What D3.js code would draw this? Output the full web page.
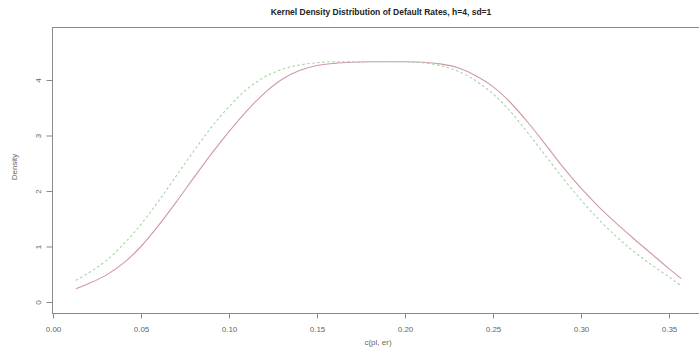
<!DOCTYPE html>
<html><head><meta charset="utf-8">
<script src="https://cdn.jsdelivr.net/npm/d3@7"></script>
<style>
html,body{margin:0;padding:0;background:#fff;}
svg{display:block;font-family:"Liberation Sans",Arial,sans-serif;}
</style></head>
<body><svg id="c" width="699" height="357"></svg>
<script>
const title = "Kernel Density Distribution of Default Rates, h=4, sd=1";
const xLabel = "c(pl, er)";
const yLabel = "Density";
const xTicks = [0, 0.05, 0.10, 0.15, 0.20, 0.25, 0.30, 0.35];
const yTicks = [0, 1, 2, 3, 4];
const xs = [0.013,0.02,0.03,0.04,0.05,0.06,0.07,0.08,0.09,0.10,0.11,0.12,0.13,0.14,0.15,0.16,0.17,0.18,0.19,0.20,0.21,0.22,0.23,0.24,0.25,0.26,0.27,0.28,0.29,0.30,0.31,0.32,0.33,0.34,0.35,0.357];
const solidY = [0.24,0.33,0.48,0.70,1.00,1.38,1.80,2.24,2.67,3.07,3.44,3.76,4.01,4.17,4.26,4.30,4.32,4.33,4.33,4.33,4.32,4.29,4.22,4.08,3.88,3.59,3.23,2.83,2.42,2.05,1.72,1.42,1.14,0.87,0.60,0.42];
const dashY  = [0.39,0.52,0.74,1.04,1.40,1.82,2.27,2.72,3.15,3.52,3.83,4.05,4.19,4.27,4.31,4.33,4.33,4.33,4.33,4.33,4.31,4.26,4.16,3.99,3.75,3.43,3.04,2.63,2.22,1.84,1.49,1.18,0.91,0.67,0.45,0.29];

const svg = d3.select("#c");
const x = d3.scaleLinear().domain([0, 0.35]).range([53, 669]);
const y = d3.scaleLinear().domain([0, 4]).range([302, 80]);
const pLeft = x(-0.0008), pRight = x(0.371), pTop = y(4.96), pBottom = y(-0.2);

svg.append("text").attr("x", 381).attr("y", 15).attr("text-anchor","middle")
  .attr("font-size", 8.5).attr("font-weight","bold").attr("fill","#222").text(title);

svg.append("rect").attr("x", Math.round(pLeft)+0.5).attr("y", Math.round(pTop)+0.5)
  .attr("width", pRight-pLeft).attr("height", Math.round(pBottom)-Math.round(pTop))
  .attr("fill","none").attr("stroke","#8a8a8a").attr("stroke-width",1);

const xa = svg.append("g").attr("transform",`translate(0,${Math.round(pBottom)+0.5})`)
  .call(d3.axisBottom(x).tickValues(xTicks).tickFormat(d3.format(".2f")).tickSize(5).tickPadding(8));
const ya = svg.append("g").attr("transform",`translate(${Math.round(pLeft)+0.5},0)`)
  .call(d3.axisLeft(y).tickValues(yTicks).tickFormat(d3.format("d")).tickSize(6).tickPadding(6));
[xa, ya].forEach(g => {
  g.select(".domain").remove();
  g.selectAll("line").attr("stroke","#8a8a8a");
  g.selectAll("text").attr("font-size",8).attr("fill","#666").attr("font-family","Liberation Sans, Arial, sans-serif");
});
ya.selectAll(".tick text").attr("text-anchor","middle").attr("dy",null).attr("x",0).attr("y",0)
  .attr("transform", "translate(-14,0) rotate(-90)")
  .attr("dominant-baseline","central");

svg.append("text").attr("x", 378).attr("y", 345).attr("text-anchor","middle")
  .attr("font-size",8).attr("fill","#666").text(xLabel);
svg.append("text").attr("transform",`translate(17,167) rotate(-90)`).attr("text-anchor","middle")
  .attr("font-size",8).attr("fill","#666").text(yLabel);

const line = d3.line().x((d,i)=>x(xs[i])).y(d=>y(d)).curve(d3.curveMonotoneX);
svg.append("path").attr("d", line(solidY)).attr("fill","none")
  .attr("stroke","#cf98ac").attr("stroke-width",1.1);
svg.append("path").attr("d", line(dashY)).attr("fill","none")
  .attr("stroke","#a3d6a0").attr("stroke-width",1.1).attr("stroke-dasharray","2.5,2.5");
</script></body></html>
